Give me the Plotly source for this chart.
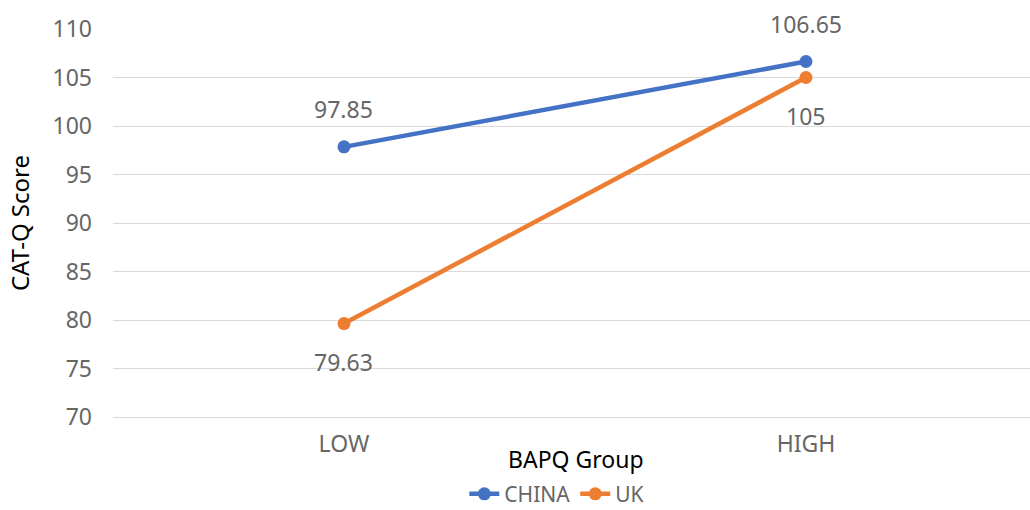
import plotly.graph_objects as go

groups = ["LOW", "HIGH"]
china = [97.85, 106.65]
uk = [79.63, 105]

BLUE = "#4472C4"
ORANGE = "#ED7D31"
GRID = "#D9D9D9"
GREY = "#666666"
FONT = "Noto Sans"
SIZE = 23

x = list(range(len(groups)))

fig = go.Figure()
fig.add_trace(go.Scatter(
    x=x, y=china, name="CHINA", mode="lines+markers",
    line=dict(color=BLUE, width=4.5), marker=dict(size=13, color=BLUE),
))
fig.add_trace(go.Scatter(
    x=x, y=uk, name="UK", mode="lines+markers",
    line=dict(color=ORANGE, width=4.5), marker=dict(size=13, color=ORANGE),
))

# value labels: CHINA above its points, UK below
for xi, v in zip(x, china):
    fig.add_annotation(x=xi, y=v, text=f"{v:g}", showarrow=False, yshift=38,
                       font=dict(family=FONT, size=SIZE, color=GREY))
for xi, v in zip(x, uk):
    fig.add_annotation(x=xi, y=v, text=f"{v:g}", showarrow=False, yshift=-38,
                       font=dict(family=FONT, size=SIZE, color=GREY))

# x-axis title sits between the category labels, just under them
fig.add_annotation(xref="paper", yref="paper", x=0.505, y=-0.108,
                   text="BAPQ Group", showarrow=False, xanchor="center", yanchor="middle",
                   font=dict(family=FONT, size=SIZE, color="black"))

fig.update_layout(
    width=1030, height=510,
    margin=dict(l=113, r=0, t=29, b=93),
    paper_bgcolor="white", plot_bgcolor="white",
    font=dict(family=FONT, color=GREY),
    legend=dict(orientation="h", x=0.484, xanchor="center",
                yref="container", y=0.031, yanchor="middle",
                font=dict(family=FONT, size=21, color=GREY)),
    xaxis=dict(
        range=[-0.5, 1.485], tickvals=x, ticktext=groups, showgrid=False,
        zeroline=False, showline=True, linecolor=GRID, linewidth=1.3, ticks="",
        ticklabelstandoff=6,
        tickfont=dict(family=FONT, size=SIZE, color=GREY),
    ),
    yaxis=dict(
        range=[70, 110], dtick=5, showgrid=True, gridcolor=GRID, gridwidth=1.3,
        zeroline=False, showline=False, ticks="", ticklabelstandoff=20,
        tickfont=dict(family=FONT, size=SIZE, color=GREY),
        title=dict(text="CAT-Q Score", standoff=16,
                   font=dict(family=FONT, size=24, color="black")),
    ),
)

fig.write_html("out.html")
